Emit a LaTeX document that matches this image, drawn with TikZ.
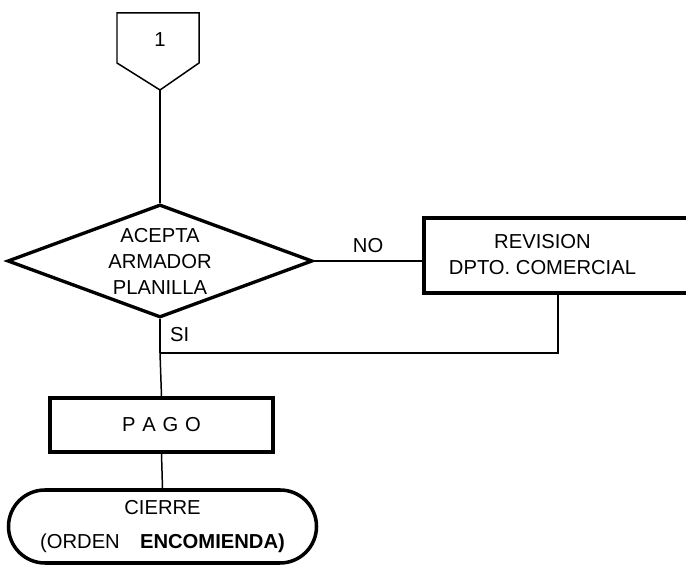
\documentclass[tikz,border=0pt]{standalone}
\usepackage{fontspec}
\setmainfont{Liberation Sans}
\usetikzlibrary{shapes.geometric,shapes.misc}

\begin{document}
\begin{tikzpicture}[
    thinline/.style={line width=0.85pt},
    procbox/.style={draw, line width=2pt, rectangle, inner sep=0pt},
    decision/.style={draw, line width=1.9pt, diamond, aspect=2.7, inner sep=0pt, align=center},
    endbox/.style={draw, line width=2pt, rounded rectangle, inner sep=0pt, align=center},
    txt/.style={font=\fontsize{11.5}{14.8}\selectfont}
  ]
  \path[use as bounding box, clip] (0,0) rectangle (13.72,11.3);

  % conector de pagina
  \node[txt] (c1) at (3.2,10.5) {1};
  \draw[thinline] (2.34,10.04) -- (2.34,11.04) -- (3.98,11.04) -- (3.98,10.04) -- (3.2,9.5) -- cycle;
  \coordinate (c1tip) at (3.2,9.5);

  \node[decision, txt, minimum width=6.1cm, minimum height=2.26cm] (acepta) at (3.2,6.08) {ACEPTA\\ARMADOR\\PLANILLA};
  \node[procbox, anchor=west, minimum width=6cm, minimum height=1.5cm] (revision) at (8.44,6.19) {};
  \node[txt, align=center] (revlabel) at (10.85,6.2) {REVISION\\DPTO.\ COMERCIAL};
  \node[procbox, txt, minimum width=4.46cm, minimum height=1.08cm] (pago) at (3.23,2.8) {P\,\,A\,\,G\,\,O};
  \node[endbox, txt, minimum width=6.16cm, minimum height=1.46cm] (cierre) at (3.25,0.77)
    {CIERRE\\[5pt](ORDEN\quad\textbf{ENCOMIENDA)}};

  \coordinate (join) at (3.2,4.24);

  \draw[thinline] (c1tip) -- (acepta.north);
  \draw[thinline] (acepta.east) -- node[txt, above=1pt] (no) {NO} (acepta.east -| revision.west);
  \draw[thinline] (acepta.south) -- node[txt, right=2pt, pos=0.45] (si) {SI} (join);
  \draw[thinline] (revision.south -| 11.16,0) -- (11.16,4.24) -- (join);
  \draw[thinline] (join) -- (pago.north);
  \draw[thinline] (pago.south) -- (cierre.north);
\end{tikzpicture}
\end{document}
